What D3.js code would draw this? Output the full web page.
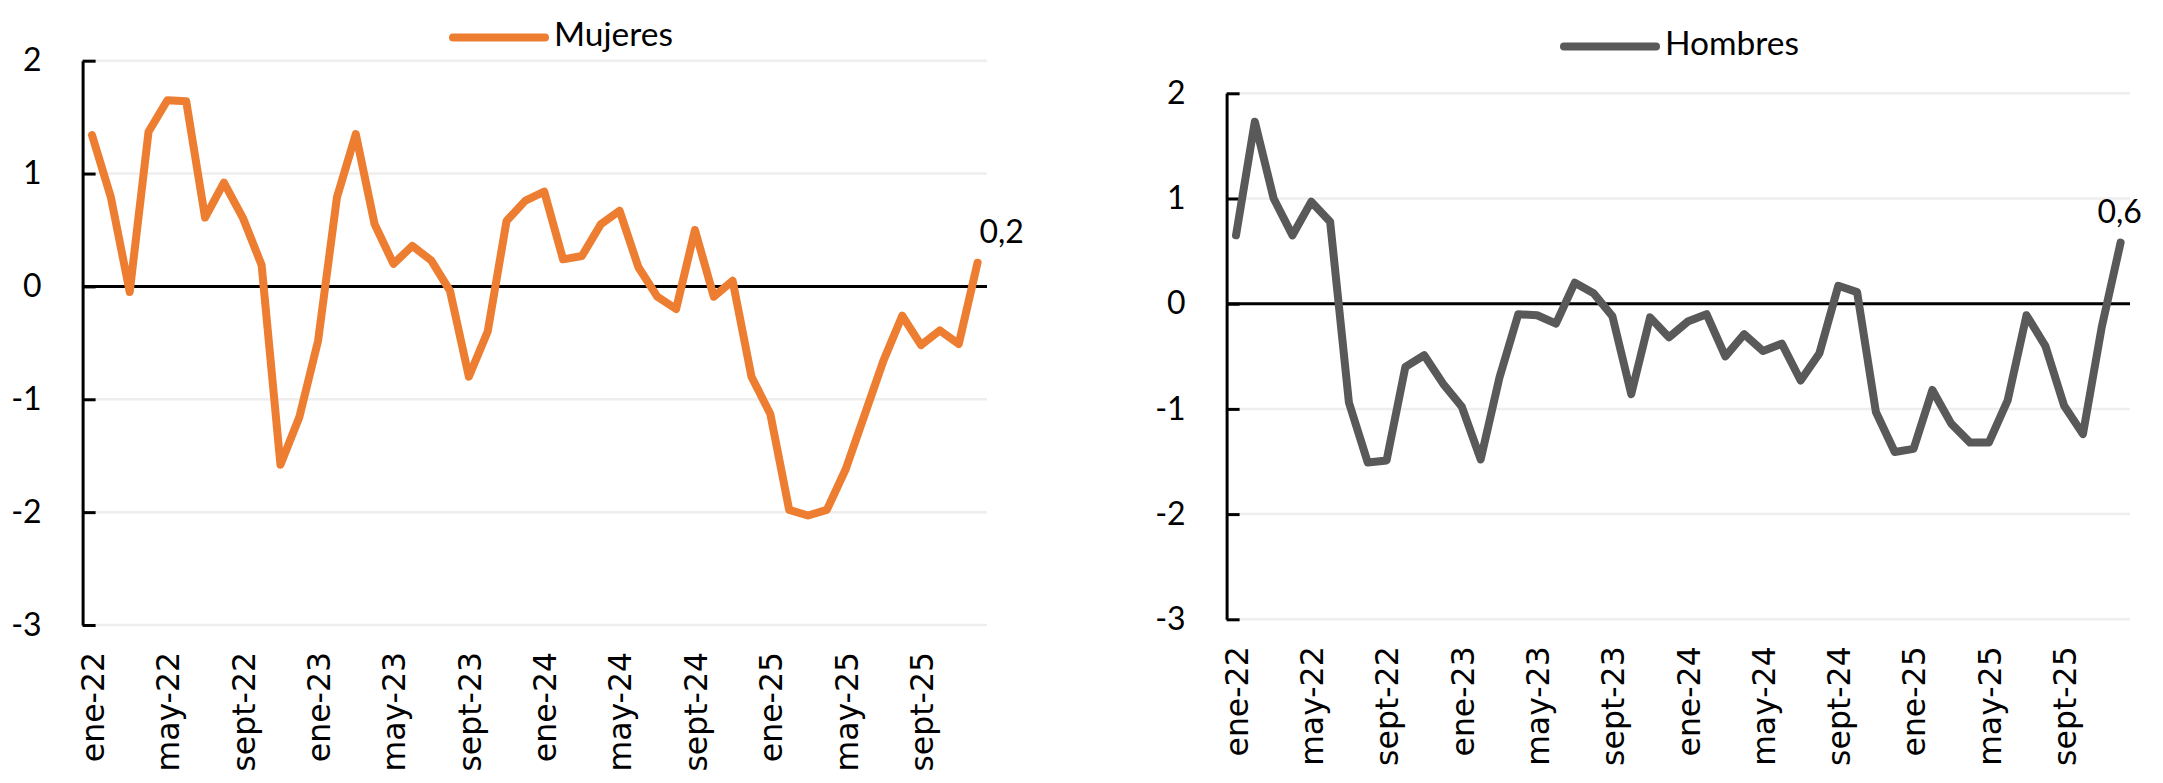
<!DOCTYPE html>
<html>
<head>
<meta charset="utf-8">
<script src="https://cdn.jsdelivr.net/npm/d3@7"></script>
<style>
  body { margin: 0; background: white; }
</style>
</head>
<body>
<svg width="2163" height="783"></svg>
<script>
// monthly categories ene-22 .. dic-25
const months = ['ene','feb','mar','abr','may','jun','jul','ago','sept','oct','nov','dic'];
const years = ['22','23','24','25'];
const dates = years.flatMap(yy => months.map(m => `${m}-${yy}`));

const tickLabels = ['ene-22','may-22','sept-22','ene-23','may-23','sept-23',
                    'ene-24','may-24','sept-24','ene-25','may-25','sept-25'];
const yTicks = [2, 1, 0, -1, -2, -3];

const mujeres = [
  1.34, 0.79, -0.05, 1.37, 1.65, 1.64, 0.61, 0.92, 0.61, 0.19, -1.58, -1.16,
  -0.48, 0.79, 1.35, 0.55, 0.20, 0.36, 0.23, -0.04, -0.80, -0.40, 0.58, 0.76,
  0.84, 0.24, 0.27, 0.55, 0.67, 0.17, -0.09, -0.20, 0.50, -0.09, 0.05, -0.80,
  -1.13, -1.98, -2.03, -1.98, -1.62, -1.14, -0.66, -0.26, -0.52, -0.39, -0.51, 0.21
];
const hombres = [
  0.65, 1.73, 1.00, 0.65, 0.97, 0.78, -0.94, -1.51, -1.49, -0.60, -0.49, -0.76,
  -0.98, -1.48, -0.70, -0.10, -0.11, -0.19, 0.20, 0.10, -0.12, -0.86, -0.13, -0.32,
  -0.17, -0.10, -0.50, -0.29, -0.45, -0.38, -0.73, -0.47, 0.17, 0.11, -1.03, -1.41,
  -1.38, -0.82, -1.14, -1.32, -1.32, -0.92, -0.11, -0.40, -0.97, -1.24, -0.22, 0.58
];

const svg = d3.select('svg');
svg.style('background-color', 'white');

const labelFont = "Lato, 'Open Sans', sans-serif";
const tickFont = "'DejaVu Sans', Verdana, sans-serif";

function drawPanel(p) {
  const x = d3.scalePoint().domain(dates).range([p.x0, p.x1]).padding(0.5);
  const y = d3.scaleLinear().domain([-3, 2]).range([p.yBot, p.yTop]);
  const g = svg.append('g');

  // gridlines
  g.append('g')
    .selectAll('line')
    .data(yTicks.filter(d => d !== 0))
    .join('line')
      .attr('x1', p.x0).attr('x2', p.x1)
      .attr('y1', d => y(d)).attr('y2', d => y(d))
      .attr('stroke', '#eeeeee')
      .attr('stroke-width', 2.5);

  // zero line
  g.append('line')
    .attr('x1', p.x0).attr('x2', p.x1)
    .attr('y1', y(0)).attr('y2', y(0))
    .attr('stroke', 'black')
    .attr('stroke-width', 3);

  // y axis, ticks pointing into the plot
  const yAxis = d3.axisLeft(y)
    .tickValues(yTicks)
    .tickSizeInner(-13)
    .tickSizeOuter(0)
    .tickPadding(41)
    .tickFormat(d => String(d));
  g.append('g')
    .attr('transform', `translate(${p.x0},0)`)
    .call(yAxis)
    .call(a => a.select('.domain').attr('stroke', 'black').attr('stroke-width', 3))
    .call(a => a.selectAll('.tick line').attr('stroke', 'black').attr('stroke-width', 3))
    .call(a => a.selectAll('.tick text')
      .attr('font-family', labelFont)
      .attr('font-size', 32)
      .attr('fill', 'black'));

  // x labels, rotated
  const xAxis = d3.axisBottom(x).tickValues(tickLabels).tickSize(0);
  g.append('g')
    .attr('transform', `translate(0,${p.yBot})`)
    .call(xAxis)
    .call(a => a.select('.domain').remove())
    .call(a => a.selectAll('.tick text')
      .attr('transform', 'rotate(-90)')
      .attr('text-anchor', 'end')
      .attr('x', -27)
      .attr('y', 0)
      .attr('dy', '0.36em')
      .attr('font-family', tickFont)
      .attr('font-size', 31.5)
      .attr('fill', 'black'));

  // series line
  const line = d3.line()
    .x((d, i) => x(dates[i]))
    .y(d => y(d));
  g.append('path')
    .datum(p.values)
    .attr('d', line)
    .attr('fill', 'none')
    .attr('stroke', p.color)
    .attr('stroke-width', 8)
    .attr('stroke-linejoin', 'round')
    .attr('stroke-linecap', 'round');

  // last value label
  const last = p.values[p.values.length - 1];
  g.append('text')
    .attr('x', x(dates[dates.length - 1]) + p.lastDx)
    .attr('y', y(last) - 20)
    .attr('text-anchor', 'middle')
    .attr('font-family', labelFont)
    .attr('font-size', 32)
    .attr('fill', 'black')
    .text(d3.format('.1f')(last).replace('.', ','));

  // legend
  g.append('line')
    .attr('x1', p.legX).attr('x2', p.legX + 92)
    .attr('y1', p.legY).attr('y2', p.legY)
    .attr('stroke', p.color)
    .attr('stroke-width', 8)
    .attr('stroke-linecap', 'round');
  g.append('text')
    .attr('x', p.legX + 101)
    .attr('y', p.legY + 8.5)
    .attr('font-family', labelFont)
    .attr('font-size', 33.5)
    .attr('fill', 'black')
    .text(p.name);
}

drawPanel({
  name: 'Mujeres', values: mujeres, color: '#ED7D31',
  x0: 82.6, x1: 987, yTop: 60.7, yBot: 625,
  legX: 453, legY: 37.5, lastDx: 24
});

drawPanel({
  name: 'Hombres', values: hombres, color: '#595959',
  x0: 1226.6, x1: 2130, yTop: 93.3, yBot: 619.3,
  legX: 1564, legY: 46.5, lastDx: -1
});
</script>
</body>
</html>
